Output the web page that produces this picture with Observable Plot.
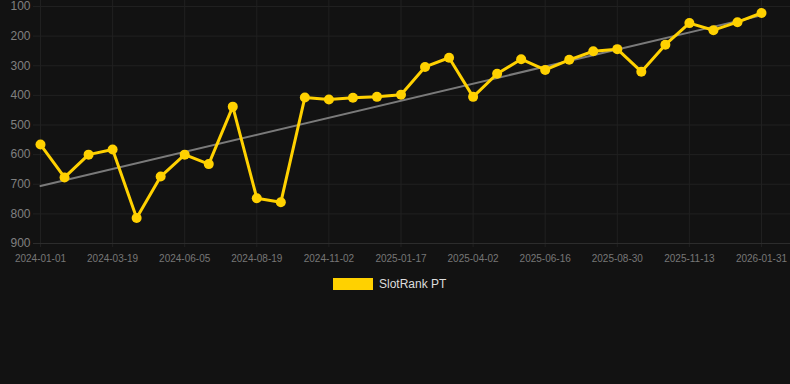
<!DOCTYPE html>
<html>
<head>
<meta charset="utf-8">
<script src="https://cdn.jsdelivr.net/npm/d3@7"></script>
<script src="https://cdn.jsdelivr.net/npm/@observablehq/plot@0.6"></script>
<style>
  html, body { margin: 0; padding: 0; background: #121212; }
  body { width: 790px; height: 384px; overflow: hidden; font-family: "Liberation Sans", Arial, Helvetica, sans-serif; }
  #legend { display: flex; justify-content: flex-start; align-items: center; margin-top: 8px; padding-left: 333px; height: 12px; }
  #legend .sw { width: 40px; height: 12px; background: #FFD100; margin-right: 6px; }
  #legend .lb { font-size: 12px; color: #dddddd; line-height: 12px; }
</style>
</head>
<body>
<div id="chart"></div>
<div id="legend"><div class="sw"></div><div class="lb" id="lbl"></div></div>
<script>
const seriesName = "SlotRank PT";
const tickLabels = ["2024-01-01","2024-03-19","2024-06-05","2024-08-19","2024-11-02","2025-01-17","2025-04-02","2025-06-16","2025-08-30","2025-11-13","2026-01-31"];
const ranks = [566, 677, 600, 583, 814, 674, 600, 632, 438, 747, 761, 407, 414, 408, 405, 398, 304, 273, 405, 327, 278, 314, 280, 251, 244, 320, 229, 156, 180, 153, 122];
const yTicks = [100, 200, 300, 400, 500, 600, 700, 800, 900];

const data = ranks.map((v, i) => ({i, v}));
const xTicks = tickLabels.map((_, k) => k * 3);
const fmt = i => tickLabels[Math.round(i / 3)];

const chart = Plot.plot({
  width: 790, height: 270,
  marginTop: 0, marginLeft: 33, marginRight: 0, marginBottom: 23,
  insetTop: 6, insetBottom: 4, insetLeft: 7, insetRight: 29,
  style: {background: "transparent", color: "#888", fontFamily: "Liberation Sans, Arial, Helvetica, sans-serif"},
  x: {type: "linear", domain: [0, ranks.length - 1]},
  y: {domain: [100, 900], reverse: true},
  marks: [
    Plot.gridX(xTicks, {stroke: "#202020", strokeOpacity: 1}),
    Plot.gridY(yTicks, {stroke: "#202020", strokeOpacity: 1}),
    Plot.ruleY([900], {stroke: "#2c2c2c", strokeOpacity: 1}),
    Plot.linearRegressionY(data, {x: "i", y: "v", ci: 0, stroke: "#7a7a7a", strokeWidth: 2}),
    Plot.line(data, {x: "i", y: "v", stroke: "#FFD100", strokeWidth: 3}),
    Plot.dot(data, {x: "i", y: "v", r: 5, fill: "#FFD100"}),
    Plot.axisX({ticks: xTicks, tickFormat: fmt, tickSize: 0, tickPadding: 7, fontSize: 10, fill: "#777", label: null}),
    Plot.axisY({ticks: yTicks, tickSize: 0, tickPadding: 3, fontSize: 12, fill: "#808080", label: null})
  ]
});
document.getElementById("chart").appendChild(chart);
document.getElementById("lbl").textContent = seriesName;
</script>
</body>
</html>
